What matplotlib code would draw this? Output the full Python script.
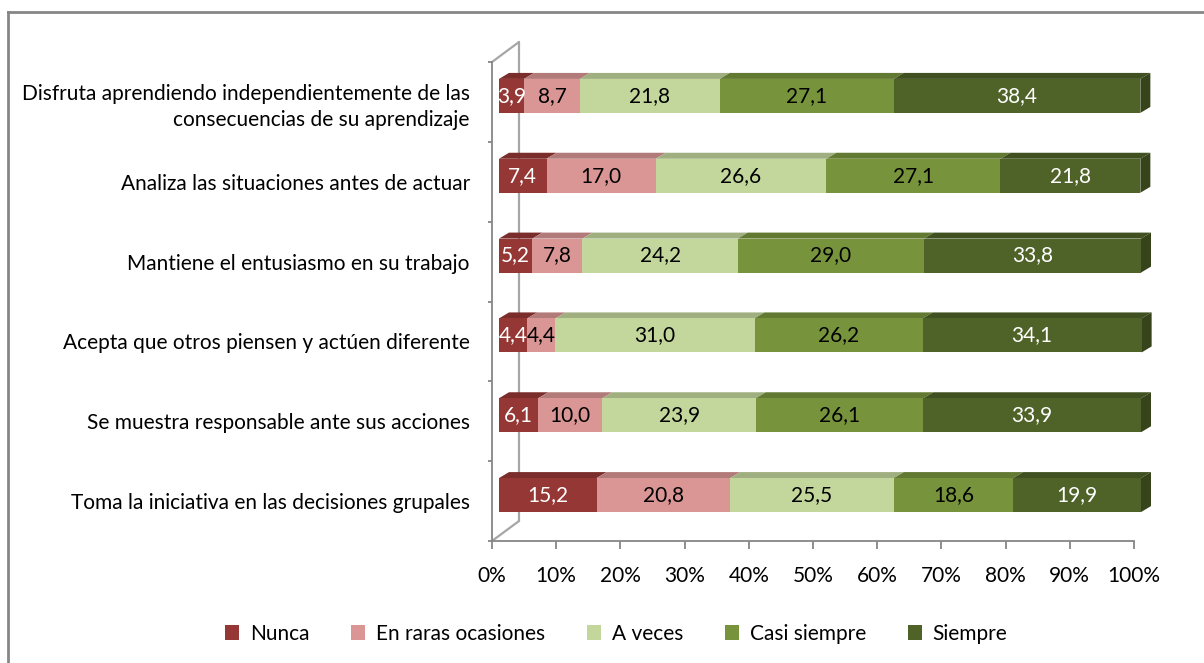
import matplotlib.pyplot as plt
from matplotlib.patches import Polygon, Patch
from matplotlib.lines import Line2D
from matplotlib.colors import to_rgb

plt.rcParams['font.family'] = ['Lato', 'DejaVu Sans']

# Items, top to bottom
categorias = [
    'Disfruta aprendiendo independientemente de las\nconsecuencias de su aprendizaje',
    'Analiza las situaciones antes de actuar',
    'Mantiene el entusiasmo en su trabajo',
    'Acepta que otros piensen y actúen diferente',
    'Se muestra responsable ante sus acciones',
    'Toma la iniciativa en las decisiones grupales',
]
series = ['Nunca', 'En raras ocasiones', 'A veces', 'Casi siempre', 'Siempre']
nunca = [3.9, 7.4, 5.2, 4.4, 6.1, 15.2]
raras = [8.7, 17.0, 7.8, 4.4, 10.0, 20.8]
a_veces = [21.8, 26.6, 24.2, 31.0, 23.9, 25.5]
casi_siempre = [27.1, 27.1, 29.0, 26.2, 26.1, 18.6]
siempre = [38.4, 21.8, 33.8, 34.1, 33.9, 19.9]
valores = [nunca, raras, a_veces, casi_siempre, siempre]

colores = ['#953735', '#d99694', '#c3d69b', '#77933c', '#4f6228']
color_texto = ['white', 'black', 'black', 'black', 'white']
eje_gris = '#868686'
fs = 15

W, H = 1204, 663
fig = plt.figure(figsize=(W / 100, H / 100), dpi=100)

# plot area: front plane, in pixels
x0_px, x1_px, ytop_px, ybot_px = 492, 1134, 62, 541
ax = fig.add_axes([x0_px / W, 1 - ybot_px / H, (x1_px - x0_px) / W, (ybot_px - ytop_px) / H])
n = len(categorias)
ax.set_xlim(0, 100)
ax.set_ylim(0, n)

# pixel -> data unit factors
px_x = 100 / (x1_px - x0_px)
px_y = n / (ybot_px - ytop_px)


def darker(c, f):
    r, g, b = to_rgb(c)
    return (r * f, g * f, b * f)


# back wall edges
wx, wy = 27 * px_x, 20 * px_y
pared = dict(color='#a6a6a6', lw=1.6, clip_on=False, zorder=1, solid_capstyle='round')
ax.add_line(Line2D([wx, wx], [wy, n + wy], **pared))
ax.add_line(Line2D([0, wx], [n, n + wy], **pared))
ax.add_line(Line2D([0, wx], [0, wy], **pared))

# 3-D stacked bars
ox, oy = 7 * px_x, 6 * px_y          # bar front face offset from front plane
dx, dy = 10 * px_x, 6 * px_y         # bar depth
alto = 34 * px_y
for i in range(n):
    yc = n - 0.5 - i + oy
    yb, yt = yc - alto / 2, yc + alto / 2
    izq = 0.0
    for k, serie in enumerate(valores):
        v = serie[i]
        xa, xb = izq + ox, izq + v + ox
        ax.add_patch(Polygon([(xa, yt), (xb, yt), (xb + dx, yt + dy), (xa + dx, yt + dy)],
                             closed=True, fc=darker(colores[k], 0.82), ec='none',
                             clip_on=False, zorder=3))
        barras = ax.barh(yc, v, left=xa, height=alto, color=colores[k], edgecolor='none', zorder=4)
        for b in barras:
            b.set_clip_on(False)
        if k == len(valores) - 1:
            ax.add_patch(Polygon([(xb, yb), (xb, yt), (xb + dx, yt + dy), (xb + dx, yb + dy)],
                                 closed=True, fc=darker(colores[k], 0.68), ec='none',
                                 clip_on=False, zorder=3))
        ax.text((xa + xb) / 2, yc, f'{v:.1f}'.replace('.', ','), ha='center', va='center',
                fontsize=fs, color=color_texto[k], zorder=5, clip_on=False)
        izq += v

# axes
for s in ['top', 'right']:
    ax.spines[s].set_visible(False)
for s in ['left', 'bottom']:
    ax.spines[s].set_color(eje_gris)
    ax.spines[s].set_linewidth(1.3)
ax.set_xticks(range(0, 101, 10))
ax.set_xticklabels([f'{t}%' for t in range(0, 101, 10)], fontsize=fs)
ax.tick_params(axis='x', length=6, width=1.3, color=eje_gris, pad=12)
ax.set_yticks(range(n + 1))
ax.set_yticklabels([])
ax.tick_params(axis='y', which='major', length=3, width=1.3, color=eje_gris)
ax.set_yticks([n - 0.5 - i for i in range(n)], minor=True)
ax.set_yticklabels(categorias, minor=True, fontsize=fs, linespacing=1.4)
ax.tick_params(axis='y', which='minor', length=0, pad=16)

# legend
handles = [Patch(facecolor=c, edgecolor='none') for c in colores]
fig.legend(handles, series, loc='center', bbox_to_anchor=(616 / W, 1 - 634 / H),
           ncol=5, frameon=False, fontsize=fs, handlelength=0.7, handleheight=0.7,
           handletextpad=0.5, columnspacing=2.0)

# chart border (top and left edges)
fig.add_artist(Line2D([8 / W, 1], [1 - 12 / H, 1 - 12 / H], color=eje_gris, lw=2,
                      transform=fig.transFigure))
fig.add_artist(Line2D([8 / W, 8 / W], [0, 1 - 12 / H], color=eje_gris, lw=2,
                      transform=fig.transFigure))

fig.savefig('out.png', dpi=100)
